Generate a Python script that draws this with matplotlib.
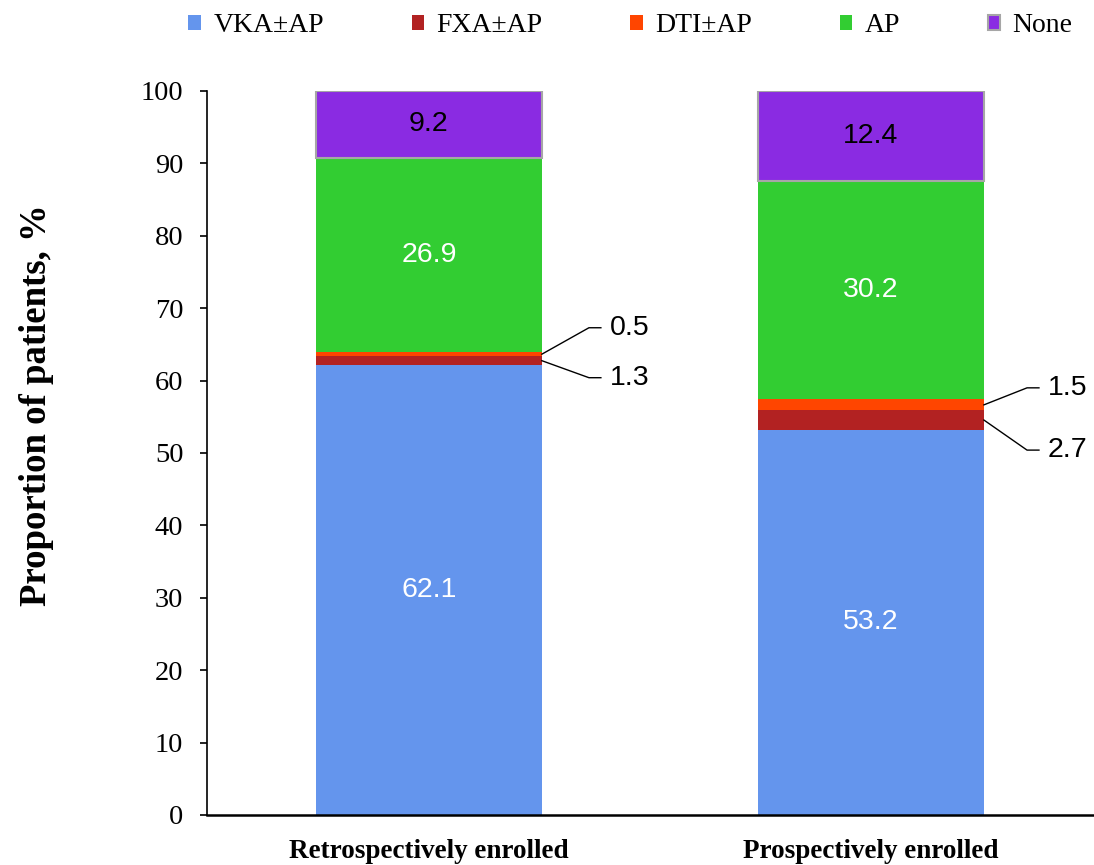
import matplotlib
matplotlib.use("Agg")
import matplotlib.pyplot as plt
from matplotlib.patches import Patch
import numpy as np

categories = ["Retrospectively enrolled", "Prospectively enrolled"]
series = ["VKA\u00b1AP", "FXA\u00b1AP", "DTI\u00b1AP", "AP", "None"]
vka = [62.1, 53.2]
fxa = [1.3, 2.7]
dti = [0.5, 1.5]
ap = [26.9, 30.2]
none = [9.2, 12.4]
yticks = list(range(0, 101, 10))

colors = ["#6495ED", "#B22222", "#FF4500", "#32CD32", "#8A2BE2"]
values = [vka, fxa, dti, ap, none]

serif = ["Liberation Serif", "DejaVu Serif"]
sans = ["Liberation Sans", "DejaVu Sans"]

fig = plt.figure(figsize=(10.94, 8.65), dpi=100)
ax = fig.add_axes([207/1094, 1-815/865, 1-207/1094, (815-91)/865])

x = np.arange(len(categories))
width = 0.511
bottom = np.zeros(len(categories))
for name, vals, col in zip(series, values, colors):
    if name == "None":
        ax.bar(x, vals, width, bottom=bottom, color=col, edgecolor="#A6A6A6",
               linewidth=1.5, label=name, zorder=2)
    else:
        ax.bar(x, vals, width, bottom=bottom, color=col, edgecolor="none",
               label=name, zorder=2)
    bottom = bottom + np.array(vals)

# in-bar labels
cum = np.zeros(len(categories))
for name, vals, col in zip(series, values, colors):
    for i, v in enumerate(vals):
        center = cum[i] + v / 2
        if name in ("VKA\u00b1AP", "AP"):
            ax.text(x[i], center, f"{v:.1f}", ha="center", va="center",
                    color="white", fontsize=20.5, family=sans, zorder=3)
        elif name == "None":
            ax.text(x[i], center, f"{v:.1f}", ha="center", va="center",
                    color="black", fontsize=20.5, family=sans, zorder=3)
    cum = cum + np.array(vals)

# callout labels for small segments
callouts = [
    (0, dti, 2, 67.3),
    (0, fxa, 1, 60.4),
    (1, dti, 2, 59.0),
    (1, fxa, 1, 50.4),
]
for i, vals, si, ly in callouts:
    base = sum(values[k][i] for k in range(si))
    yc = base + vals[i] / 2
    xe = x[i] + width / 2
    xm = x[i] + 0.353 if i == 1 else x[i] + 0.362
    xl = xm + 0.027
    ax.plot([xe, xm, xl], [yc, ly, ly], color="black", lw=1.0, zorder=3,
            clip_on=False)
    ax.text(xl + 0.02, ly, f"{vals[i]:.1f}", ha="left", va="center",
            fontsize=20.5, family=sans, color="black")

ax.set_xlim(-0.502, 1.5045)
ax.set_ylim(0, 100)
ax.set_yticks(yticks)
ax.set_yticklabels([str(t) for t in yticks], family=serif, fontsize=20.5)
ax.set_xticks(x)
ax.set_xticklabels(categories, family=serif, fontsize=19.5, fontweight="bold")
ax.tick_params(axis="x", length=0, pad=17)
ax.tick_params(axis="y", length=5, width=1.2, pad=12, direction="out")
for s in ("top", "right"):
    ax.spines[s].set_visible(False)
ax.spines["left"].set_linewidth(1.2)
ax.spines["bottom"].set_linewidth(1.8)
ax.set_ylabel("Proportion of patients, %", family=serif, fontsize=26.5,
              fontweight="bold")
ax.yaxis.set_label_coords(-0.172, 0.566)

handles = []
for name, col in zip(series, colors):
    if name == "None":
        handles.append(Patch(facecolor=col, edgecolor="#A6A6A6", linewidth=1.5, label=name))
    else:
        handles.append(Patch(facecolor=col, edgecolor="none", label=name))
fig.legend(handles=handles, loc="center", bbox_to_anchor=(0.5763, 1-26/865),
           ncol=5, frameon=False, prop={"family": serif, "size": 20},
           handlelength=0.45, handleheight=0.45, handletextpad=0.45,
           columnspacing=3.15, borderaxespad=0)

fig.savefig("out.png", dpi=100)
